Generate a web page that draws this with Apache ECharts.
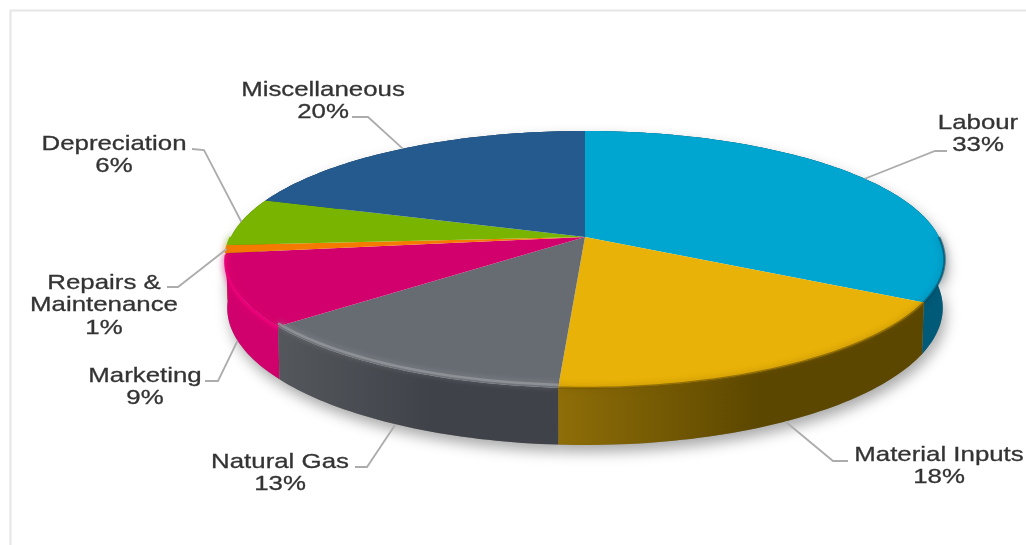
<!DOCTYPE html>
<html>
<head>
<meta charset="utf-8">
<style>html,body{margin:0;padding:0;background:#fff}#c{width:1026px;height:545px}</style>
<script src="https://cdn.jsdelivr.net/npm/echarts@6/dist/echarts.min.js"></script>
</head>
<body>
<div id="c"></div>
<script>
// Cost shares, clockwise from twelve o'clock
var categories = ['Labour', 'Material Inputs', 'Natural Gas', 'Marketing', 'Repairs & Maintenance', 'Depreciation', 'Miscellaneous'];
var shares = [33, 18, 13, 9, 1, 6, 20];
var labelLines = [['Labour'], ['Material Inputs'], ['Natural Gas'], ['Marketing'], ['Repairs &', 'Maintenance'], ['Depreciation'], ['Miscellaneous']];

// Slice colours
var faceColors = ['#00a5d0', '#e9b208', '#676c73', '#d2006c', '#f47a00', '#78b400', '#245a8e'];
var wallLeft = ['#00708f', '#8f6e08', '#54575c', '#d0006d', '#c86400', '#5f9000', '#1c4870'];
var wallRight = ['#005a78', '#5c4700', '#3f4248', '#d0006d', '#c86400', '#5f9000', '#1c4870'];
var rimColors = ['rgba(0,70,95,0.6)', 'rgba(120,90,0,0.7)', '#8d9095', '#ea0078', '#f47a00', '#78b400', '#245a8e'];
var rimLift = [0, 0, -3, 2, 0, 0, 0];

// Label layout: centre x, first line y, leader elbow and the end near the text
var labelPos = [[978, 123], [939, 455], [280, 462], [145, 376], [104, 283], [114, 144], [323, 90]];
var elbows = [[[935, 151], [947, 151]], [[833, 461], [848, 461]], [[367, 467], [355, 467]], [[218, 381], [205, 381]],
  [[178, 287], [167, 287]], [[204, 150], [192, 149]], [[368, 117], [352, 117]]];
var LINE_H = 22.5, TEXT_STRETCH = 1.23;

// Perspective view of the tilted disc
var CX = 585, CY = 237, RX = 354, RY = 124.6, PERSP = 0.175, DEPTH = 47, BOTTOM_X = 0.995;
var TOTAL = shares.reduce(function (a, b) { return a + b; }, 0);
var cumulative = [0];
shares.forEach(function (v, i) { cumulative.push(cumulative[i] + v); });

function midCos(i) { return Math.cos((cumulative[i] + cumulative[i + 1]) / 2 / TOTAL * Math.PI * 2); }
function rimPoint(share, lower) {
  var ang = share / TOTAL * Math.PI * 2;
  var u = Math.sin(ang), v = Math.cos(ang);
  var d = 1 + PERSP * v;
  var x = RX * u / d, y = -RY * v / d;
  return lower ? [CX + x * BOTTOM_X, CY + y + DEPTH / d] : [CX + x, CY + y];
}
function arc(i, lower) {
  var pts = [], a = cumulative[i], b = cumulative[i + 1], n = Math.max(4, Math.round((b - a) * 3));
  for (var k = 0; k <= n; k++) pts.push(rimPoint(a + (b - a) * k / n, lower));
  return pts;
}
function frontOnly(i) {
  var pts = [], a = cumulative[i], b = cumulative[i + 1], n = Math.max(4, Math.round((b - a) * 3));
  for (var k = 0; k <= n; k++) {
    var s = a + (b - a) * k / n;
    if (Math.cos(s / TOTAL * Math.PI * 2) < 0.02) pts.push(rimPoint(s, false));
  }
  return pts;
}
function wallPoints(i) { return arc(i, false).concat(arc(i, true).reverse()); }

function renderShadow(p) {
  return { type: 'polygon', shape: { points: wallPoints(p.dataIndex) },
    style: { fill: '#888', shadowBlur: 14, shadowOffsetY: 7, shadowOffsetX: 3, shadowColor: 'rgba(0,0,0,0.34)' } };
}
function renderWall(p) {
  var i = p.dataIndex;
  return { type: 'polygon', z2: Math.round(-midCos(i) * 100), shape: { points: wallPoints(i) },
    style: { fill: new echarts.graphic.LinearGradient(0, 0, 1, 0, [
      { offset: 0, color: wallLeft[i] }, { offset: 0.55, color: wallRight[i] }, { offset: 1, color: wallRight[i] }]) } };
}
function renderFace(p) {
  var i = p.dataIndex;
  return { type: 'polygon', shape: { points: [[CX, CY]].concat(arc(i, false)) }, style: { fill: faceColors[i] } };
}
function renderRim(p) {
  var i = p.dataIndex, pts = frontOnly(i);
  if (pts.length < 2) return null;
  return { type: 'polyline', y: rimLift[i], shape: { points: pts },
    style: { stroke: rimColors[i], fill: null, lineWidth: 2.5, shadowBlur: 6, shadowColor: rimColors[i], lineCap: 'butt' } };
}
function renderLabel(p) {
  var i = p.dataIndex;
  var mid = (cumulative[i] + cumulative[i + 1]) / 2;
  var lowerEnd = midCos(i) < -0.2;
  var children = [{ type: 'polyline', shape: { points: [rimPoint(mid, lowerEnd)].concat(elbows[i]) },
    style: { stroke: '#acacac', fill: null, lineWidth: 1.8 } }];
  labelLines[i].concat([shares[i] + '%']).forEach(function (line, k) {
    children.push({ type: 'text', x: labelPos[i][0], y: labelPos[i][1] + k * LINE_H, scaleX: TEXT_STRETCH,
      style: { text: line, fill: '#333', font: '21px "Liberation Sans"', align: 'center', verticalAlign: 'middle',
        stroke: '#333', lineWidth: 0.3 } });
  });
  return { type: 'group', children: children };
}

function layer(render, z) {
  return { type: 'custom', coordinateSystem: 'none', renderItem: render, z: z, silent: true, clip: false,
    data: shares.map(function (v, i) { return { name: categories[i], value: v }; }) };
}

var chart = echarts.init(document.getElementById('c'), null, { renderer: 'canvas' });
chart.setOption({
  animation: false,
  backgroundColor: '#fff',
  graphic: [{ type: 'polyline', z: 0, shape: { points: [[10.5, 545], [10.5, 10.5], [1026, 10.5]] },
    style: { stroke: '#e6e6e6', fill: null, lineWidth: 2 } }],
  series: [layer(renderShadow, 1), layer(renderWall, 2), layer(renderFace, 3), layer(renderRim, 4), layer(renderLabel, 5)]
});
</script>
</body>
</html>
